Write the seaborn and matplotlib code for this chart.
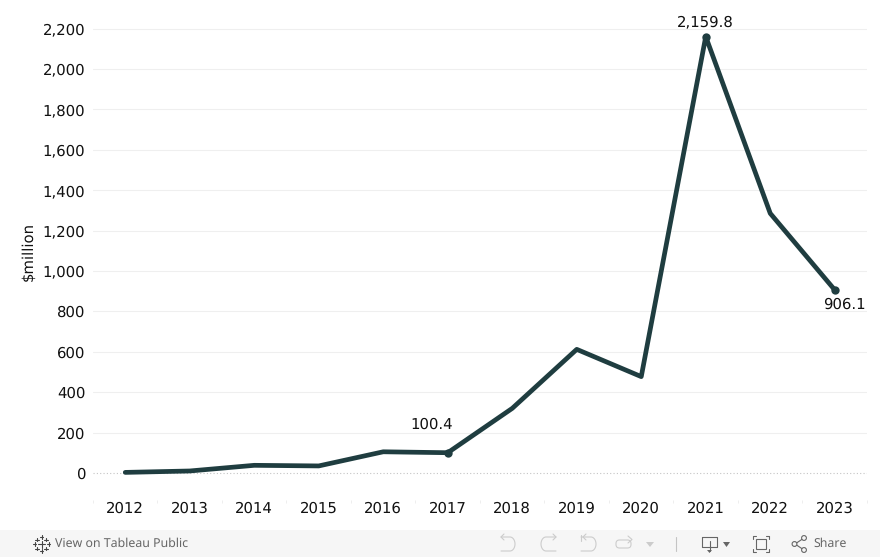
import matplotlib
matplotlib.use('Agg')
import matplotlib.pyplot as plt
import numpy as np
import pandas as pd
import seaborn as sns
from matplotlib.patches import Circle, FancyBboxPatch, Rectangle

# Values
years = [2012, 2013, 2014, 2015, 2016, 2017, 2018, 2019, 2020, 2021, 2022, 2023]
values = [3, 10, 38, 35, 105, 100.4, 320, 612, 477, 2159.8, 1285, 906.1]
y_ticks = [0, 200, 400, 600, 800, 1000, 1200, 1400, 1600, 1800, 2000, 2200]
labelled_years = [2017, 2021, 2023]
label_texts = ['100.4', '2,159.8', '906.1']
# label offset from its point, in pixels
label_offsets = [(-16, 28), (0, 15), (10, -15)]

line_color = '#1f3d40'
text_color = '#111111'

df = pd.DataFrame({'year': years, 'value': values})
marked = df[df['year'].isin(labelled_years)]

sns.set_theme(style='white')
plt.rcParams['font.family'] = 'DejaVu Sans'
plt.rcParams['text.hinting'] = 'no_hinting'

W, H = 880, 557
fig = plt.figure(figsize=(W / 100, H / 100), dpi=100, facecolor='white')

# Plot area in pixels
left, right, top, bottom = 93, 867, 10, 500
ax = fig.add_axes([left / W, 1 - bottom / H, (right - left) / W, (bottom - top) / H])

sns.lineplot(data=df, x='year', y='value', color=line_color, linewidth=3.4,
             ax=ax, zorder=3, solid_joinstyle='round')
sns.scatterplot(data=marked, x='year', y='value', color=line_color, s=36,
                linewidth=0, ax=ax, zorder=4)

px_per_unit = 444.5 / 2200
ax.set_xlim(2011.5, 2023.5)
ax.set_ylim((473 - bottom) / px_per_unit, (473 - top) / px_per_unit)

ax.set_xticks(years)
ax.set_xticklabels([str(y) for y in years])
ax.set_xticks([y - 0.5 for y in years] + [2023.5], minor=True)
ax.set_yticks(y_ticks)
ax.set_yticklabels([f'{v:,}' for v in y_ticks])
ax.tick_params(axis='x', which='major', length=0, pad=1, labelsize=10.7, colors=text_color)
ax.tick_params(axis='x', which='minor', length=2.5, width=0.7, color='#eeeeee', bottom=True)
ax.tick_params(axis='y', length=0, pad=5.5, labelsize=10.7, colors=text_color)

for v in y_ticks[1:]:
    ax.axhline(v, color='#efefef', linewidth=0.8, zorder=1)
ax.axhline(0, color='#c4c4c4', linewidth=0.8, linestyle=(0, (1, 2)), zorder=1)

sns.despine(ax=ax, left=True, bottom=True)
ax.set_xlabel('')
ax.set_ylabel('')
fig.text(28 / W, 1 - 251 / H, '$million', rotation=90, ha='center', va='center',
         fontsize=10.7, color=text_color)

for yr, txt, (dx, dy) in zip(labelled_years, label_texts, label_offsets):
    val = df.loc[df['year'] == yr, 'value'].iloc[0]
    ax.annotate(txt, (yr, val), xytext=(dx * 0.72, dy * 0.72), textcoords='offset points',
                ha='center', va='center', fontsize=10.7, color=text_color, annotation_clip=False)

# Toolbar strip at the bottom, drawn in pixel coordinates
strip = '#f6f6f6'
ui = fig.add_axes([0, 0, 1, 1], zorder=5)
ui.set_xlim(0, W)
ui.set_ylim(H, 0)
ui.axis('off')
ui.patch.set_alpha(0)
ui.add_patch(Rectangle((0, 530), W, 27, color=strip, linewidth=0))
ui.text(55, 544, 'View on Tableau Public', fontsize=8.9, color='#666666', va='center',
        family='Noto Sans')
ui.text(813, 544, 'Share', fontsize=8.9, color='#666666', va='center', family='Noto Sans')

# Tableau logo: plus signs of different sizes
logo = '#444444'
for cx, cy, r in [(41.5, 544, 3.5), (41.5, 537, 1.8), (41.5, 551, 1.8), (34.5, 544, 1.8), (48.5, 544, 1.8),
                  (37, 539.5, 1.8), (46, 539.5, 1.8), (37, 548.5, 1.8), (46, 548.5, 1.8)]:
    ui.plot([cx - r, cx + r], [cy, cy], color=logo, lw=0.8)
    ui.plot([cx, cx], [cy - r, cy + r], color=logo, lw=0.8)


def arc_path(x_start, x_end, bulge_x):
    # a flat top, a rounded side and a flat bottom, for the undo style icons
    t = np.linspace(-np.pi / 2, np.pi / 2, 20)
    xs = x_end + (bulge_x - x_end) * np.cos(t)
    ys = 544 + 7 * np.sin(t)
    return [x_start] + list(xs) + [x_start], [537] + list(ys) + [551]


# Undo, redo, revert, refresh icons
grey = '#cccccc'
xs, ys = arc_path(501, 510, 515)
ui.plot(xs, ys, color=grey, lw=0.8)
ui.plot([504, 501, 504], [534, 537, 540], color=grey, lw=0.8)
xs, ys = arc_path(556, 546, 541)
ui.plot(xs, ys, color=grey, lw=0.8)
ui.plot([553, 556, 553], [534, 537, 540], color=grey, lw=0.8)
xs, ys = arc_path(581, 591, 596)
ui.plot(xs, ys, color=grey, lw=0.8)
ui.plot([581, 581], [535, 541], color=grey, lw=0.8)
ui.plot([586, 583, 586], [534, 537, 540], color=grey, lw=0.8)
ui.add_patch(FancyBboxPatch((616, 540), 15, 8, boxstyle='round,pad=0,rounding_size=3.5',
                            mutation_aspect=1, fill=False, ec=grey, lw=0.8))
ui.plot([628, 632, 628], [536, 539.5, 543], color=grey, lw=0.8)
ui.fill([646, 654, 650], [542, 542, 547], color=grey, lw=0)
ui.plot([675.5, 675.5], [537, 551], color='#c4c4c4', lw=0.8)

# Download icon and fullscreen icon
dark = '#666666'
ui.plot([702, 717, 717, 702, 702], [537, 537, 547, 547, 537], color=dark, lw=0.8)
ui.plot([709.5, 709.5], [541, 551], color=dark, lw=0.8)
ui.fill([707, 712, 709.5], [550, 550, 553], color=dark, lw=0)
ui.fill([723, 730, 726.5], [542, 542, 547], color=dark, lw=0)
ui.add_patch(Rectangle((756, 539), 10, 10, fill=False, ec=dark, lw=0.8))
x0, x1, y0, y1 = 753, 769, 536, 552
ui.plot([x0, x0, x0 + 3], [y0 + 3, y0, y0], color=dark, lw=0.8)
ui.plot([x1 - 3, x1, x1], [y0, y0, y0 + 3], color=dark, lw=0.8)
ui.plot([x0, x0, x0 + 3], [y1 - 3, y1, y1], color=dark, lw=0.8)
ui.plot([x1 - 3, x1, x1], [y1, y1, y1 - 3], color=dark, lw=0.8)

# Share icon
ui.plot([795, 804], [544, 538], color=dark, lw=0.8)
ui.plot([795, 804], [544, 550], color=dark, lw=0.8)
for cx, cy in [(794.5, 544), (804, 538), (804, 550)]:
    ui.add_patch(Circle((cx, cy), 2.4, fc=strip, ec=dark, lw=0.8, zorder=3))

fig.savefig('out.png', dpi=100)
